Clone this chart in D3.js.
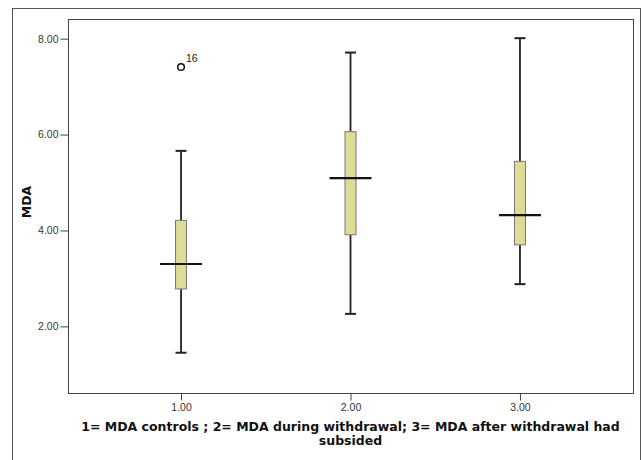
<!DOCTYPE html>
<html>
<head>
<meta charset="utf-8">
<script src="https://cdn.jsdelivr.net/npm/d3@7"></script>
<style>
  body { margin: 0; background: #fff; }
  svg text { font-family: "Liberation Sans", Arial, sans-serif; }
</style>
</head>
<body>
<div id="chart"></div>
<script>
// datos (resumen de cinco numeros por grupo)
const groups = [1, 2, 3];
const tickLabels = ["1.00", "2.00", "3.00"];
const whiskerLow = [1.45, 2.26, 2.88];
const q1 = [2.78, 3.91, 3.70];
const median = [3.30, 5.09, 4.32];
const q3 = [4.21, 6.06, 5.44];
const whiskerHigh = [5.66, 7.71, 8.01];
const outliers = [{ group: 1, value: 7.41, label: "16" }];
const yTicks = [2, 4, 6, 8];

const xLabelLines = [
  "1= MDA controls ; 2= MDA during withdrawal; 3= MDA after withdrawal had",
  "subsided",
];

const width = 642, height = 460;
const plot = { left: 68, top: 19, right: 633, bottom: 393 };

const svg = d3.select("#chart").append("svg")
  .attr("width", width).attr("height", height);

// marco exterior
svg.append("rect")
  .attr("x", 12.5).attr("y", 8.5)
  .attr("width", 628).attr("height", 470)
  .attr("fill", "none").attr("stroke", "#555").attr("stroke-width", 1);

const x = d3.scalePoint().domain(groups).range([plot.left, plot.right]).padding(0.667);
const y = d3.scaleLinear().domain([0.61, 8.41]).range([plot.bottom, plot.top]);

// caja del area de trazado
svg.append("rect")
  .attr("x", plot.left + 0.5).attr("y", plot.top + 0.5)
  .attr("width", plot.right - plot.left).attr("height", plot.bottom - plot.top)
  .attr("fill", "none").attr("stroke", "#444").attr("stroke-width", 1);

// ejes
const yAxis = svg.append("g")
  .attr("transform", `translate(${plot.left + 0.5},0)`)
  .call(d3.axisLeft(y).tickValues(yTicks).tickFormat(d3.format(".2f")).tickSize(8).tickPadding(2));
yAxis.select(".domain").remove();
yAxis.selectAll("line").attr("stroke", "#444");
yAxis.selectAll("text").attr("font-size", 10.5).attr("fill", "#333")
  .style("font-family", "Liberation Sans, Arial, sans-serif");

const xAxis = svg.append("g")
  .attr("transform", `translate(0,${plot.bottom + 0.5})`)
  .call(d3.axisBottom(x).tickFormat((d, i) => tickLabels[i]).tickSize(7).tickPadding(3));
xAxis.select(".domain").remove();
xAxis.selectAll("line").attr("stroke", "#444");
xAxis.selectAll("text").attr("font-size", 10.5).attr("fill", "#333")
  .style("font-family", "Liberation Sans, Arial, sans-serif");

// cajas
const boxW = 11, capW = 11, medW = 42;
const g = svg.append("g");
groups.forEach((grp, i) => {
  const cx = x(grp);
  // bigotes
  g.append("line").attr("x1", cx).attr("x2", cx)
    .attr("y1", y(whiskerHigh[i])).attr("y2", y(q3[i]))
    .attr("stroke", "#222").attr("stroke-width", 1.8);
  g.append("line").attr("x1", cx).attr("x2", cx)
    .attr("y1", y(q1[i])).attr("y2", y(whiskerLow[i]))
    .attr("stroke", "#222").attr("stroke-width", 1.8);
  [whiskerHigh[i], whiskerLow[i]].forEach((v) => {
    g.append("line").attr("x1", cx - capW / 2).attr("x2", cx + capW / 2)
      .attr("y1", y(v)).attr("y2", y(v))
      .attr("stroke", "#222").attr("stroke-width", 2);
  });
  g.append("rect")
    .attr("x", cx - boxW / 2).attr("y", y(q3[i]))
    .attr("width", boxW).attr("height", y(q1[i]) - y(q3[i]))
    .attr("fill", "#dcdc96").attr("stroke", "#777").attr("stroke-width", 1);
  g.append("line").attr("x1", cx - medW / 2).attr("x2", cx + medW / 2)
    .attr("y1", y(median[i])).attr("y2", y(median[i]))
    .attr("stroke", "#111").attr("stroke-width", 2.2);
});

// valores atipicos
outliers.forEach((o) => {
  g.append("circle").attr("cx", x(o.group)).attr("cy", y(o.value)).attr("r", 3.3)
    .attr("fill", "none").attr("stroke", "#111").attr("stroke-width", 1.5);
  g.append("text").attr("x", x(o.group) + 5).attr("y", y(o.value) - 5)
    .attr("font-size", 10.5).attr("fill", "#222").text(o.label);
});

// etiquetas de ejes
svg.append("text")
  .attr("transform", `translate(31,${(plot.top + plot.bottom) / 2 - 4}) rotate(-90)`)
  .attr("text-anchor", "middle").attr("font-weight", "bold").attr("font-size", 12.5)
  .style("font-family", "DejaVu Sans, Verdana, sans-serif")
  .attr("fill", "#111").text("MDA");

const cxLabel = (plot.left + plot.right) / 2;
xLabelLines.forEach((line, i) => {
  svg.append("text")
    .attr("x", cxLabel).attr("y", 431 + i * 14)
    .attr("text-anchor", "middle").attr("font-weight", "bold").attr("font-size", 12.5)
    .style("font-family", "DejaVu Sans, Verdana, sans-serif")
    .attr("fill", "#111").text(line);
});
</script>
</body>
</html>
